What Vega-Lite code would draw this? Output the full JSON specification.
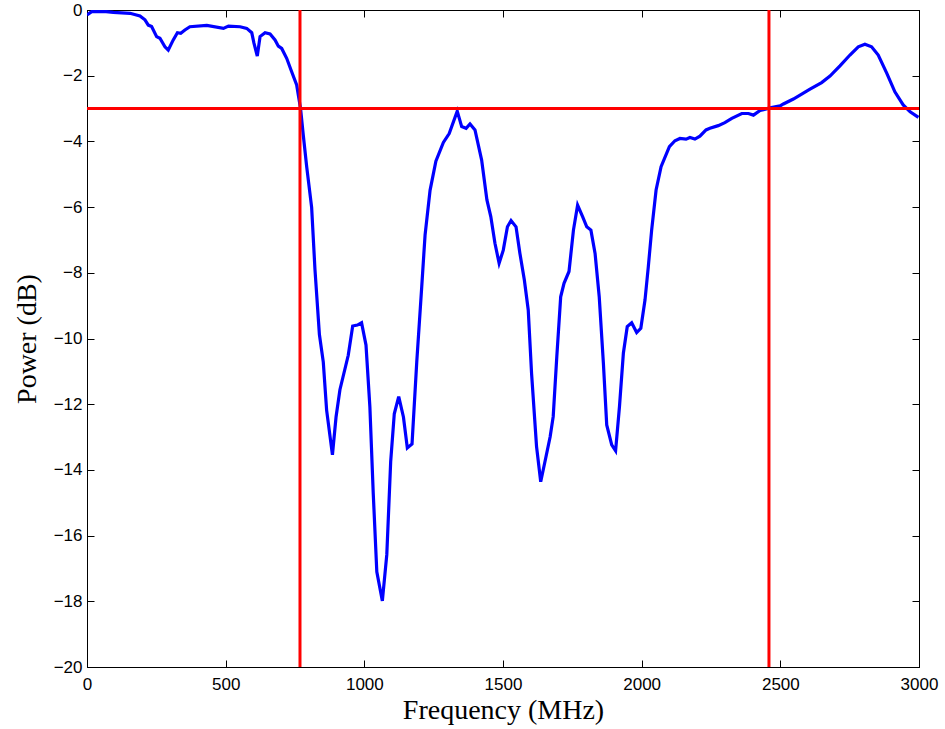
{
  "$schema": "https://vega.github.io/schema/vega-lite/v6.json",
  "width": 832,
  "height": 657,
  "autosize": "none",
  "padding": {"left": 87, "top": 10, "right": 26, "bottom": 62},
  "background": "white",
  "config": {
    "view": {"stroke": "black", "strokeWidth": 1},
    "axis": {
      "grid": false,
      "domainColor": "black",
      "domainWidth": 1,
      "tickColor": "black",
      "tickWidth": 1,
      "tickSize": -7,
      "labelFont": "Liberation Sans",
      "labelFontSize": 17,
      "labelColor": "black",
      "titleFont": "Liberation Serif",
      "titleFontSize": 28,
      "titleFontWeight": "normal",
      "titleColor": "black"
    }
  },
  "datasets": {
    "curve": [
      {"f": 0, "p": -0.15}, {"f": 17, "p": -0.05}, {"f": 60, "p": -0.04}, {"f": 95, "p": -0.07},
      {"f": 155, "p": -0.1}, {"f": 191, "p": -0.18}, {"f": 209, "p": -0.3}, {"f": 221, "p": -0.46},
      {"f": 233, "p": -0.5}, {"f": 251, "p": -0.81}, {"f": 263, "p": -0.86}, {"f": 281, "p": -1.12},
      {"f": 293, "p": -1.22}, {"f": 311, "p": -0.91}, {"f": 326, "p": -0.69}, {"f": 338, "p": -0.71},
      {"f": 353, "p": -0.61}, {"f": 371, "p": -0.51}, {"f": 432, "p": -0.47}, {"f": 492, "p": -0.56},
      {"f": 510, "p": -0.49}, {"f": 552, "p": -0.51}, {"f": 576, "p": -0.56}, {"f": 594, "p": -0.69},
      {"f": 602, "p": -1.01}, {"f": 614, "p": -1.4}, {"f": 624, "p": -0.81}, {"f": 642, "p": -0.69},
      {"f": 660, "p": -0.73}, {"f": 678, "p": -0.91}, {"f": 690, "p": -1.1}, {"f": 702, "p": -1.17},
      {"f": 720, "p": -1.47}, {"f": 738, "p": -1.88}, {"f": 756, "p": -2.28}, {"f": 770, "p": -3.0},
      {"f": 780, "p": -3.82}, {"f": 792, "p": -4.76}, {"f": 810, "p": -6.01}, {"f": 822, "p": -7.9},
      {"f": 838, "p": -9.88}, {"f": 852, "p": -10.72}, {"f": 864, "p": -12.18}, {"f": 885, "p": -13.54},
      {"f": 898, "p": -12.39}, {"f": 912, "p": -11.56}, {"f": 942, "p": -10.51}, {"f": 958, "p": -9.62},
      {"f": 975, "p": -9.59}, {"f": 990, "p": -9.52}, {"f": 1006, "p": -10.2}, {"f": 1020, "p": -12.08},
      {"f": 1032, "p": -14.69}, {"f": 1045, "p": -17.1}, {"f": 1065, "p": -17.99}, {"f": 1081, "p": -16.58},
      {"f": 1095, "p": -13.75}, {"f": 1108, "p": -12.29}, {"f": 1124, "p": -11.77}, {"f": 1141, "p": -12.39},
      {"f": 1155, "p": -13.33}, {"f": 1172, "p": -13.21}, {"f": 1189, "p": -10.72}, {"f": 1207, "p": -8.42},
      {"f": 1219, "p": -6.85}, {"f": 1237, "p": -5.49}, {"f": 1258, "p": -4.6}, {"f": 1285, "p": -4.03},
      {"f": 1306, "p": -3.76}, {"f": 1335, "p": -3.08}, {"f": 1351, "p": -3.55}, {"f": 1367, "p": -3.6},
      {"f": 1381, "p": -3.47}, {"f": 1399, "p": -3.65}, {"f": 1423, "p": -4.57}, {"f": 1442, "p": -5.78},
      {"f": 1456, "p": -6.29}, {"f": 1471, "p": -7.1}, {"f": 1486, "p": -7.71}, {"f": 1501, "p": -7.31},
      {"f": 1516, "p": -6.6}, {"f": 1529, "p": -6.41}, {"f": 1547, "p": -6.6}, {"f": 1561, "p": -7.41},
      {"f": 1577, "p": -8.22}, {"f": 1591, "p": -9.13}, {"f": 1603, "p": -11.06}, {"f": 1621, "p": -13.29},
      {"f": 1636, "p": -14.36}, {"f": 1655, "p": -13.6}, {"f": 1670, "p": -12.99}, {"f": 1681, "p": -12.38},
      {"f": 1694, "p": -10.55}, {"f": 1708, "p": -8.73}, {"f": 1720, "p": -8.32}, {"f": 1738, "p": -7.96},
      {"f": 1754, "p": -6.7}, {"f": 1769, "p": -5.94}, {"f": 1787, "p": -6.29}, {"f": 1802, "p": -6.6},
      {"f": 1817, "p": -6.7}, {"f": 1832, "p": -7.41}, {"f": 1847, "p": -8.73}, {"f": 1862, "p": -10.76},
      {"f": 1874, "p": -12.63}, {"f": 1892, "p": -13.24}, {"f": 1906, "p": -13.42}, {"f": 1920, "p": -12.07},
      {"f": 1934, "p": -10.45}, {"f": 1948, "p": -9.64}, {"f": 1964, "p": -9.52}, {"f": 1982, "p": -9.82},
      {"f": 1997, "p": -9.69}, {"f": 2012, "p": -8.83}, {"f": 2024, "p": -7.81}, {"f": 2036, "p": -6.7},
      {"f": 2052, "p": -5.48}, {"f": 2070, "p": -4.77}, {"f": 2100, "p": -4.16}, {"f": 2120, "p": -3.98},
      {"f": 2138, "p": -3.91}, {"f": 2160, "p": -3.93}, {"f": 2174, "p": -3.88}, {"f": 2192, "p": -3.93},
      {"f": 2210, "p": -3.84}, {"f": 2232, "p": -3.65}, {"f": 2246, "p": -3.6}, {"f": 2276, "p": -3.52},
      {"f": 2300, "p": -3.43}, {"f": 2325, "p": -3.3}, {"f": 2361, "p": -3.15}, {"f": 2385, "p": -3.15},
      {"f": 2403, "p": -3.2}, {"f": 2427, "p": -3.06}, {"f": 2463, "p": -2.98}, {"f": 2499, "p": -2.92},
      {"f": 2511, "p": -2.86}, {"f": 2547, "p": -2.71}, {"f": 2607, "p": -2.41}, {"f": 2649, "p": -2.21},
      {"f": 2679, "p": -2.01}, {"f": 2715, "p": -1.7}, {"f": 2751, "p": -1.37}, {"f": 2781, "p": -1.12},
      {"f": 2805, "p": -1.04}, {"f": 2829, "p": -1.12}, {"f": 2853, "p": -1.37}, {"f": 2884, "p": -1.93},
      {"f": 2913, "p": -2.49}, {"f": 2943, "p": -2.89}, {"f": 2968, "p": -3.1}, {"f": 2998, "p": -3.27}
    ],
    "vlines": [{"f": 768}, {"f": 2459}],
    "hlines": [{"p": -3}]
  },
  "resolve": {"axis": {"x": "independent", "y": "independent"}},
  "layer": [
    {
      "data": {"name": "curve"},
      "mark": {"type": "line", "color": "#0000ff", "strokeWidth": 3.2, "clip": true},
      "encoding": {
        "x": {
          "field": "f", "type": "quantitative",
          "scale": {"domain": [0, 3000], "nice": false, "zero": false},
          "axis": {"orient": "bottom", "title": "Frequency (MHz)", "format": "d", "values": [0, 500, 1000, 1500, 2000, 2500, 3000],
                   "labelPadding": 16, "titlePadding": 4, "labelFlush": false}
        },
        "y": {
          "field": "p", "type": "quantitative",
          "scale": {"domain": [-20, 0], "nice": false, "zero": false},
          "axis": {"orient": "left", "title": "Power (dB)", "format": "d", "values": [0, -2, -4, -6, -8, -10, -12, -14, -16, -18, -20],
                   "labelPadding": 12, "titlePadding": 12, "labelFlush": false}
        }
      }
    },
    {
      "data": {"name": "vlines"},
      "mark": {"type": "rule", "color": "#ff0000", "strokeWidth": 3},
      "encoding": {
        "x": {
          "field": "f", "type": "quantitative",
          "axis": {"orient": "top", "title": null, "labels": false, "values": [0, 500, 1000, 1500, 2000, 2500, 3000]}
        }
      }
    },
    {
      "data": {"name": "hlines"},
      "mark": {"type": "rule", "color": "#ff0000", "strokeWidth": 3},
      "encoding": {
        "y": {
          "field": "p", "type": "quantitative",
          "axis": {"orient": "right", "title": null, "labels": false, "values": [0, -2, -4, -6, -8, -10, -12, -14, -16, -18, -20]}
        }
      }
    }
  ]
}
